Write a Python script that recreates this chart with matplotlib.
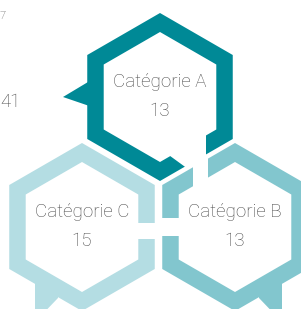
import numpy as np
import matplotlib.pyplot as plt
from matplotlib.patches import Polygon

# data
categories = ['Catégorie A', 'Catégorie B', 'Catégorie C']
values = [13, 13, 15]
colors = ['#008996', '#82C6CE', '#B4DDE3']
total = sum(values)

# layout (pixel coords, y down)
centers = [(160, 97), (235, 227), (82, 227)]
R_OUT, R_IN = 84, 65
tails = [
    [(88, 82), (63, 97), (104, 111), (104, 82)],
    [(282, 282), (282, 322), (259, 298), (259, 290)],
    [(35, 282), (35, 322), (58, 298), (58, 290)],
]
# white breaks where the rings face each other
cuts = [
    [(166, 153), (206, 128), (206, 157), (188, 169)],
    [(193, 164), (208, 155), (208, 180), (193, 189)],
    [(132, 223), (158, 223), (158, 239), (132, 239)],
    [(159, 218), (184, 218), (184, 236), (159, 236)],
]
text_color = '#4a4a4a'
font = dict(family='Roboto', fontweight='light', color=text_color)


def hexagon(cx, cy, r):
    ang = np.radians([90, 150, 210, 270, 330, 30])
    return np.column_stack([cx + r * np.cos(ang), cy - r * np.sin(ang)])


fig = plt.figure(figsize=(3.01, 3.09), dpi=100)
ax = fig.add_axes([0, 0, 1, 1])
ax.set_xlim(0, 301)
ax.set_ylim(309, 0)
ax.axis('off')

for (cx, cy), col, tail in zip(centers, colors, tails):
    ax.add_patch(Polygon(hexagon(cx, cy, R_OUT), closed=True, fc=col, ec='none'))
    ax.add_patch(Polygon(tail, closed=True, fc=col, ec='none'))
    ax.add_patch(Polygon(hexagon(cx, cy, R_IN), closed=True, fc='white', ec='none'))

for c in cuts:
    ax.add_patch(Polygon(c, closed=True, fc='white', ec='none'))

for (cx, cy), cat, val in zip(centers, categories, values):
    ax.text(cx, cy - 15, cat, ha='center', va='center', fontsize=13.5, **font)
    ax.text(cx, cy + 14, str(val), ha='center', va='center', fontsize=13.5, **font)

ax.text(0, 102, str(total), ha='left', va='center', fontsize=13.5, **font)
ax.text(0, 16, '7', ha='left', va='center', fontsize=8, **font)

fig.savefig('out.png', dpi=100)
